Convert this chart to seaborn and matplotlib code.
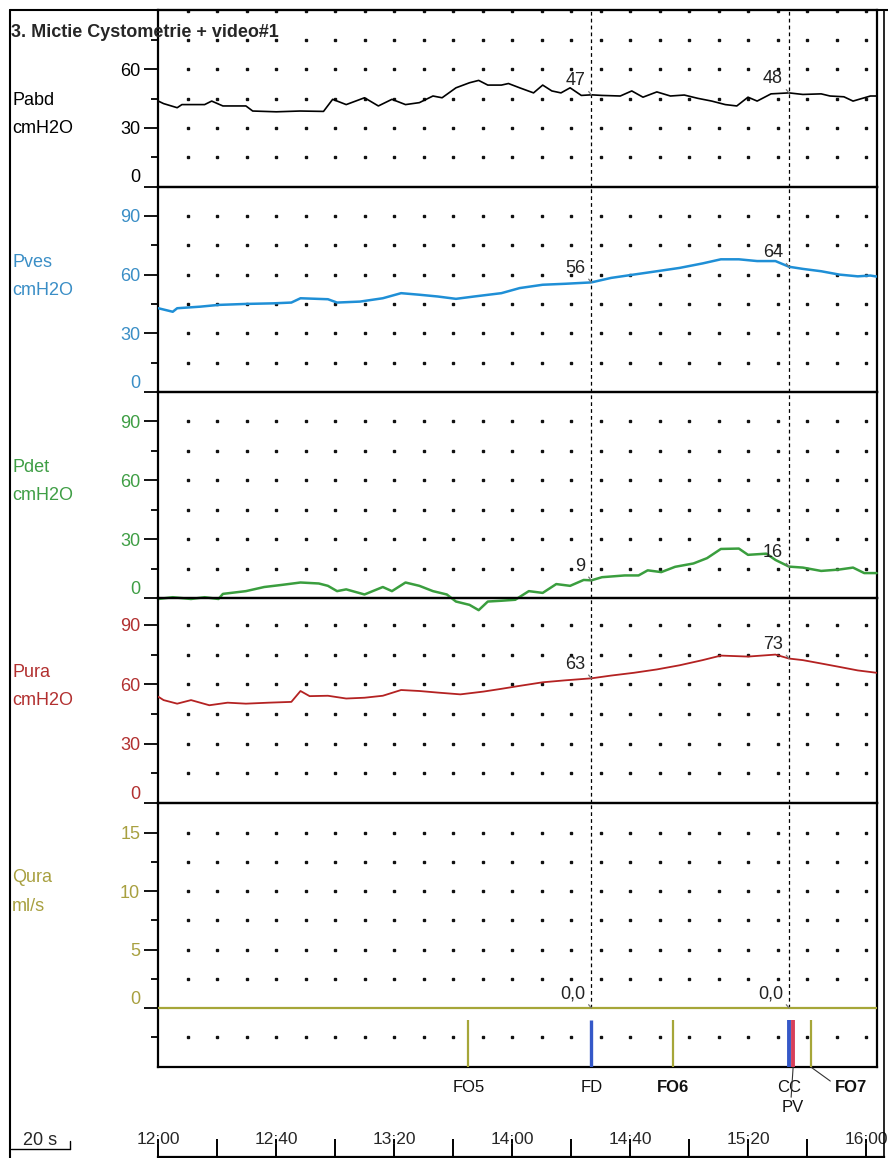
import numpy as np
import matplotlib
matplotlib.use("Agg")
import matplotlib.pyplot as plt
from matplotlib.lines import Line2D
import seaborn as sns

# ---------------------------------------------------------------------------
# Recorded channels (time in seconds; 12:00 -> 720 s)
# ---------------------------------------------------------------------------
pabd_t = [720, 721.8, 726.4, 728.0, 735.7, 738.1, 741.9, 749.7, 752.0, 760.0,
          768.0, 776.0, 779.1, 783.7, 789.9, 794.6, 799.2, 803.8, 808.5, 813.1,
          816.2, 820.9, 825.5, 828.6, 831.7, 836.3, 838.7, 842.5, 847.2, 850.3,
          853.4, 856.5, 859.6, 863.4, 866.8, 870.4, 876.6, 880.5, 884.3, 889.0,
          893.6, 898.3, 902.9, 907.6, 912.2, 916.1, 919.9, 923.0, 927.7, 933.8,
          938.5, 944.7, 947.7, 952.4, 955.5, 961.4, 963.5]
pabd = [43.8, 42.5, 40.4, 42.0, 42.0, 43.8, 41.3, 41.3, 38.7, 38.3,
        38.7, 38.5, 44.7, 42.0, 45.5, 41.3, 44.7, 42.0, 43.0, 46.4,
        45.5, 50.6, 53.2, 54.4, 52.0, 52.0, 52.8, 50.6, 48.0, 52.0,
        49.0, 48.0, 50.6, 46.7, 47.0, 46.7, 46.4, 49.0, 45.8, 48.5,
        46.4, 46.9, 45.2, 43.8, 42.0, 41.3, 45.8, 43.8, 47.5, 48.0,
        47.2, 47.5, 46.4, 46.0, 43.8, 46.4, 46.4]

pves_t = [720, 724.9, 726.4, 734.2, 740.4, 749.7, 759.0, 765.1, 768.2, 777.5,
          780.6, 788.4, 796.1, 802.3, 808.5, 814.7, 820.9, 827.1, 836.3, 842.5,
          850.3, 858.0, 866.8, 873.5, 881.2, 889.0, 896.7, 904.5, 910.7, 916.8,
          923.0, 929.2, 933.8, 938.5, 944.7, 950.8, 957.1, 961.4, 963.5]
pves = [42.8, 41.0, 42.8, 43.6, 44.5, 45.0, 45.3, 45.7, 47.9, 47.4,
        45.7, 46.2, 47.9, 50.5, 49.7, 48.8, 47.6, 48.8, 50.5, 53.1,
        54.8, 55.3, 56.0, 58.3, 60.0, 61.7, 63.4, 65.7, 67.8, 67.8,
        66.9, 66.9, 64.0, 62.9, 61.7, 60.0, 59.1, 59.5, 59.0]

pdet_t = [720, 724.9, 731.1, 735.7, 740.4, 741.9, 749.7, 755.9, 762.0, 768.2,
          774.4, 777.5, 780.6, 783.7, 789.9, 796.1, 799.2, 803.8, 808.5, 813.1,
          817.8, 820.9, 825.5, 828.6, 831.7, 836.3, 841.0, 845.6, 850.3, 854.9,
          859.6, 864.2, 866.8, 870.4, 878.1, 882.8, 885.9, 890.5, 895.2, 901.4,
          906.0, 910.7, 916.8, 919.9, 926.1, 929.2, 933.8, 938.5, 944.7, 950.8,
          955.5, 959.3, 963.5]
pdet = [-0.5, 0.4, -0.5, 0.4, -0.5, 2.1, 3.5, 5.6, 6.7, 7.9,
        7.4, 6.2, 3.5, 4.4, 1.8, 5.6, 3.5, 7.9, 6.2, 3.5,
        1.8, -1.8, -3.5, -6.2, -1.8, -1.4, -0.9, 3.5, 2.6, 7.1,
        6.2, 9.2, 9.0, 10.6, 11.5, 11.5, 14.1, 13.2, 15.9, 17.6,
        20.3, 25.0, 25.2, 22.0, 22.6, 19.4, 16.0, 15.5, 13.8, 14.5,
        15.5, 12.7, 12.7]

pura_t = [720, 721.8, 726.4, 731.1, 737.3, 743.5, 749.7, 757.4, 765.1, 768.2,
          771.3, 777.5, 783.7, 789.9, 796.1, 802.3, 808.5, 814.7, 822.4, 830.2,
          836.3, 842.5, 850.3, 858.0, 866.8, 873.5, 881.2, 889.0, 896.7, 904.5,
          910.7, 919.9, 929.2, 933.8, 938.5, 944.7, 950.8, 957.1, 961.4, 963.5]
pura = [53.7, 52.0, 50.2, 52.0, 49.4, 50.7, 50.2, 50.7, 51.1, 56.6,
        54.0, 54.2, 52.8, 53.2, 54.2, 57.1, 56.6, 55.8, 54.9, 56.3,
        57.7, 59.2, 61.0, 62.0, 63.0, 64.4, 65.8, 67.5, 69.6, 72.2,
        74.5, 74.0, 75.0, 73.0, 72.2, 70.5, 68.8, 67.0, 66.2, 65.8]

qura_t = [720, 963.5]
qura = [0.0, 0.0]

# cursor positions where values are read out
mark_times = [866.8, 933.8]

# event markers along the flow channel
event_names = ["FO5", "FD", "FO6", "CC", "PV", "FO7"]
event_times = [825.1, 866.8, 894.4, 933.8, 935.2, 941.2]

time_ticks = [720, 760, 800, 840, 880, 920, 960]
time_minor = [740, 780, 820, 860, 900, 940]

# ---------------------------------------------------------------------------
sns.set_style("white")
plt.rcParams["font.family"] = ["Liberation Sans", "DejaVu Sans"]

W, H = 888, 1158
fig = plt.figure(figsize=(W / 100, H / 100), dpi=100)


def fx(px):
    return px / W


def fy(py):
    return 1 - py / H


X0, X1 = 158.3, 877.0
T0 = 720.0
PX_PER_S = 2.95
T1 = T0 + (X1 - X0) / PX_PER_S

BLUE = "#1f8fd6"
GREEN = "#3a9e3e"
RED = "#b42222"
OLIVE = "#a6a638"
FS = 13

channels = [
    dict(name="Pabd", unit="cmH2O", t=pabd_t, v=pabd, color="black", text="black",
         top=10, bottom=186.5, ylim=(0, 90.5), ticks=[0, 30, 60], minor=[15, 45, 75],
         rows=[15, 30, 45, 60, 75, 90], lw=1.2, lab=(105, 133), fmt="{:.0f}"),
    dict(name="Pves", unit="cmH2O", t=pves_t, v=pves, color=BLUE, text="#3a8ec6",
         top=186.5, bottom=392, ylim=(0, 105), ticks=[0, 30, 60, 90], minor=[15, 45, 75],
         rows=[15, 30, 45, 60, 75, 90], lw=1.8, lab=(267, 295), fmt="{:.0f}"),
    dict(name="Pdet", unit="cmH2O", t=pdet_t, v=pdet, color=GREEN, text="#3f9e45",
         top=392, bottom=598, ylim=(0, 105), ticks=[0, 30, 60, 90], minor=[15, 45, 75],
         rows=[15, 30, 45, 60, 75, 90], lw=1.8, lab=(472, 500), fmt="{:.0f}"),
    dict(name="Pura", unit="cmH2O", t=pura_t, v=pura, color=RED, text="#b23030",
         top=598, bottom=803, ylim=(0, 103.6), ticks=[0, 30, 60, 90], minor=[15, 45, 75],
         rows=[15, 30, 45, 60, 75, 90], lw=1.3, lab=(677, 705), fmt="{:.0f}"),
    dict(name="Qura", unit="ml/s", t=qura_t, v=qura, color=OLIVE, text="#a8a040",
         top=803, bottom=1067, ylim=(-5.06, 17.57), ticks=[0, 5, 10, 15],
         minor=[-2.5, 2.5, 7.5, 12.5], rows=[-2.5, 2.5, 5, 7.5, 10, 12.5, 15],
         lw=1.6, lab=(882, 911), fmt="{:.1f}"),
]

dot_x = np.arange(730, 961, 10)
for ch in channels:
    ax = fig.add_axes([fx(X0), fy(ch["bottom"]), fx(X1 - X0), (ch["bottom"] - ch["top"]) / H])
    ax.patch.set_visible(False)
    sns.lineplot(x=ch["t"], y=ch["v"], ax=ax, color=ch["color"], linewidth=ch["lw"],
                 estimator=None, sort=False, legend=False, clip_on=(ch["name"] != "Pdet"),
                 zorder=3)
    # background dot grid
    gx, gy = np.meshgrid(dot_x, ch["rows"])
    ax.plot(gx.ravel(), gy.ravel(), ls="none", marker="s", ms=1.6, color="#111", zorder=1)
    ax.set_xlim(T0, T1)
    ax.set_ylim(*ch["ylim"])
    ax.set_xlabel("")
    ax.set_ylabel("")
    ax.set_xticks([])
    ax.set_yticks(ch["ticks"], labels=[str(v) for v in ch["ticks"]])
    ax.set_yticks(ch["minor"], minor=True)
    ax.tick_params(axis="y", which="both", left=True, right=False)
    ax.tick_params(axis="y", which="major", direction="out", length=10, width=1.3,
                   labelsize=FS, labelcolor=ch["text"], pad=3, color="black")
    ax.tick_params(axis="y", which="minor", direction="out", length=5, width=1.3,
                   color="black")
    for lbl in ax.get_yticklabels():
        if lbl.get_text() == "0":
            lbl.set_verticalalignment("bottom")
    for s in ax.spines.values():
        s.set_visible(True)
        s.set_color("black")
        s.set_linewidth(1.6)
    # channel name and unit
    fig.text(fx(12), fy(ch["lab"][0]), ch["name"], color=ch["text"], fontsize=FS,
             va="baseline", ha="left")
    fig.text(fx(12), fy(ch["lab"][1]), ch["unit"], color=ch["text"], fontsize=FS,
             va="baseline", ha="left")
    # cursor lines and read-out values
    for mt in mark_times:
        if ch["name"] == "Qura":
            ax.vlines(mt, 0, ch["ylim"][1], colors="black", linestyles=(0, (3, 2.5)),
                      linewidth=0.9, zorder=2)
        else:
            ax.axvline(mt, color="black", ls=(0, (3, 2.5)), lw=0.9, zorder=2)
        val = float(np.interp(mt, ch["t"], ch["v"]))
        txt = ch["fmt"].format(val).replace(".", ",")
        ax.annotate(txt, xy=(mt, val), xytext=(-6, 14), textcoords="offset pixels",
                    ha="right", va="center", fontsize=FS, color="#222", zorder=5,
                    arrowprops=dict(arrowstyle="-", color="#777", lw=0.9,
                                    shrinkA=0, shrinkB=0, relpos=(1, 0.1)))
    ch["ax"] = ax

# event markers below the flow baseline
ax_q = channels[-1]["ax"]
ev_style = {
    "FO5": dict(color=OLIVE, lw=1.6, bold=False, off=(0, -21)),
    "FD": dict(color="#3558c8", lw=2.4, bold=False, off=(0, -21)),
    "FO6": dict(color=OLIVE, lw=1.6, bold=True, off=(0, -21)),
    "CC": dict(color="#3558c8", lw=2.8, bold=False, off=(0, -21)),
    "PV": dict(color="#d8405a", lw=2.8, bold=False, off=(0, -41)),
    "FO7": dict(color=OLIVE, lw=1.6, bold=True, off=(40, -21)),
}
ybot = channels[-1]["ylim"][0]
for name, t in zip(event_names, event_times):
    st = ev_style[name]
    ax_q.vlines(t, ybot, -1.03, colors=st["color"], linewidth=st["lw"], zorder=4)
    kw = {}
    if name == "PV":
        kw["arrowprops"] = dict(arrowstyle="-", color="#333", lw=0.8, shrinkA=0,
                                shrinkB=0, relpos=(0.4, 1.0))
    elif name == "FO7":
        kw["arrowprops"] = dict(arrowstyle="-", color="#333", lw=0.8, shrinkA=1,
                                shrinkB=0, relpos=(0.0, 0.75))
    ax_q.annotate(name, xy=(t, ybot), xytext=st["off"], textcoords="offset pixels",
                  ha="center", va="center", fontsize=12,
                  fontweight="bold" if st["bold"] else "normal", color="#111",
                  annotation_clip=False, **kw)

# time axis along the bottom edge
XT1 = 884.0
ax_t = fig.add_axes([fx(X0), fy(1157), fx(XT1 - X0), 40 / H])
ax_t.patch.set_visible(False)
ax_t.set_xlim(T0, T0 + (XT1 - X0) / PX_PER_S)
ax_t.set_ylim(0, 1)
ax_t.set_yticks([])
for side in ["top", "left", "right"]:
    ax_t.spines[side].set_visible(False)
ax_t.spines["bottom"].set_linewidth(1.6)
ax_t.spines["bottom"].set_color("black")
ax_t.set_xticks(time_ticks, labels=[f"{t // 60}:{t % 60:02d}" for t in time_ticks])
ax_t.set_xticks(time_minor, minor=True)
ax_t.tick_params(axis="x", which="both", bottom=True, top=False, direction="in",
                 length=13, width=1.4, color="black")
ax_t.tick_params(axis="x", which="major", pad=-18, labelsize=12.5)

# 20 s scale bar
bar_len = 20 * PX_PER_S
fig.text(fx(23), fy(1145), "20 s", fontsize=13, va="baseline", ha="left")
fig.add_artist(Line2D([fx(11), fx(11 + bar_len)], [fy(1149), fy(1149)],
                      transform=fig.transFigure, color="black", lw=1.0))
fig.add_artist(Line2D([fx(11 + bar_len), fx(11 + bar_len)], [fy(1141), fy(1149)],
                      transform=fig.transFigure, color="black", lw=1.0))

# frame
fig.add_artist(Line2D([fx(10), fx(10)], [fy(10), fy(1158)], transform=fig.transFigure,
                      color="black", lw=1.5))
fig.add_artist(Line2D([fx(10), fx(888)], [fy(10), fy(10)], transform=fig.transFigure,
                      color="black", lw=1.5))
fig.add_artist(Line2D([fx(884), fx(884)], [fy(10), fy(1158)], transform=fig.transFigure,
                      color="black", lw=1.2))

fig.text(fx(11), fy(37), "3. Mictie Cystometrie + video#1", fontsize=13,
         fontweight="bold", va="baseline", ha="left")

fig.savefig("out.png", dpi=100, facecolor="white")
